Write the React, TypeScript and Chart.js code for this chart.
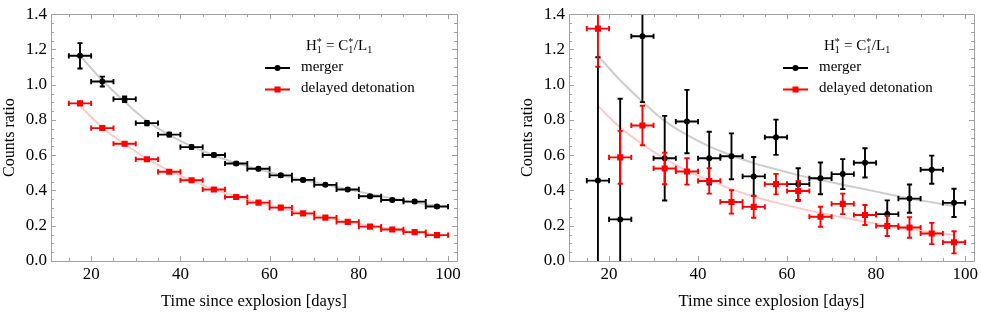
import React, { useEffect, useRef } from "react";
import { Chart, registerables } from "chart.js";
Chart.register(...registerables);

// ---- data ----
const days = [17.5, 22.5, 27.5, 32.5, 37.5, 42.5, 47.5, 52.5, 57.5, 62.5, 67.5, 72.5, 77.5, 82.5, 87.5, 92.5, 97.5];
const binHalfWidth = 2.5;

const leftMerger = [1.164, 1.018, 0.918, 0.782, 0.717, 0.646, 0.601, 0.553, 0.523, 0.486, 0.46, 0.432, 0.406, 0.367, 0.346, 0.337, 0.309];
const leftMergerErr = [0.072, 0.028, 0.016, 0.012, 0.011, 0.01, 0.009, 0.009, 0.008, 0.008, 0.008, 0.007, 0.007, 0.007, 0.007, 0.007, 0.007];
const leftDD = [0.894, 0.754, 0.665, 0.577, 0.506, 0.458, 0.406, 0.363, 0.331, 0.303, 0.27, 0.246, 0.222, 0.195, 0.179, 0.164, 0.147];
const leftDDErr = [0.01, 0.009, 0.008, 0.008, 0.007, 0.007, 0.007, 0.006, 0.006, 0.006, 0.006, 0.006, 0.006, 0.005, 0.005, 0.005, 0.005];

const rightMerger = [0.456, 0.236, 1.275, 0.583, 0.791, 0.583, 0.594, 0.48, 0.702, 0.436, 0.469, 0.493, 0.557, 0.266, 0.354, 0.518, 0.33];
const rightMergerErr = [0.7, 0.684, 0.374, 0.24, 0.18, 0.15, 0.13, 0.11, 0.1, 0.09, 0.09, 0.085, 0.083, 0.078, 0.08, 0.08, 0.08];
const rightDD = [1.318, 0.588, 0.769, 0.525, 0.508, 0.454, 0.335, 0.307, 0.436, 0.397, 0.251, 0.324, 0.261, 0.199, 0.19, 0.156, 0.106];
const rightDDErr = [0.216, 0.15, 0.112, 0.09, 0.075, 0.072, 0.066, 0.062, 0.058, 0.057, 0.057, 0.058, 0.057, 0.057, 0.058, 0.06, 0.063];

const modelMerger = [1.165, 1.025, 0.905, 0.795, 0.715, 0.65, 0.6, 0.555, 0.52, 0.487, 0.46, 0.433, 0.407, 0.38, 0.355, 0.333, 0.312];
const modelDD = [0.88, 0.757, 0.662, 0.58, 0.512, 0.457, 0.408, 0.366, 0.331, 0.3, 0.272, 0.247, 0.223, 0.2, 0.181, 0.163, 0.148];

const xMajorTicks = [20, 40, 60, 80, 100];
const xMinorTicks = [15, 25, 30, 35, 45, 50, 55, 65, 70, 75, 85, 90, 95];
const yMajorTicks = [0, 0.2, 0.4, 0.6, 0.8, 1.0, 1.2, 1.4];
const yMinorTicks = [0.05, 0.1, 0.15, 0.25, 0.3, 0.35, 0.45, 0.5, 0.55, 0.65, 0.7, 0.75, 0.85, 0.9, 0.95, 1.05, 1.1, 1.15, 1.25, 1.3, 1.35];

const seriesLabels = ["merger", "delayed detonation"];
const xTitle = "Time since explosion [days]";
const yTitle = "Counts ratio";

const SERIF = "'Liberation Serif', 'DejaVu Serif', serif";
const RED = "#ff0000";
const BLACK = "#000000";

const errorBarPlugin = {
  id: "errbars",
  beforeDatasetDraw(chart: any, args: any) {
    const ds = chart.data.datasets[args.index];
    if (!ds.errY) return;
    const xs = chart.scales.x;
    const ys = chart.scales.y;
    const ctx = chart.ctx;
    const a = chart.chartArea;
    ctx.save();
    ctx.beginPath();
    ctx.rect(a.left, a.top, a.right - a.left, a.bottom - a.top);
    ctx.clip();
    ctx.strokeStyle = ds.barColor;
    ctx.lineWidth = 1.9;
    const cap = 2.6;
    ds.data.forEach((p: any, i: number) => {
      const e = ds.errY[i];
      const px = xs.getPixelForValue(p.x);
      const py = ys.getPixelForValue(p.y);
      const x0 = xs.getPixelForValue(p.x - binHalfWidth);
      const x1 = xs.getPixelForValue(p.x + binHalfWidth);
      const y0 = ys.getPixelForValue(p.y - e);
      const y1 = ys.getPixelForValue(p.y + e);
      ctx.beginPath();
      ctx.moveTo(x0, py); ctx.lineTo(x1, py);
      ctx.moveTo(x0, py - cap); ctx.lineTo(x0, py + cap);
      ctx.moveTo(x1, py - cap); ctx.lineTo(x1, py + cap);
      ctx.moveTo(px, y0); ctx.lineTo(px, y1);
      ctx.moveTo(px - cap, y0); ctx.lineTo(px + cap, y0);
      ctx.moveTo(px - cap, y1); ctx.lineTo(px + cap, y1);
      ctx.stroke();
    });
    ctx.restore();
  },
};

const framePlugin = {
  id: "frame",
  afterDraw(chart: any) {
    const ctx = chart.ctx;
    const a = chart.chartArea;
    const xs = chart.scales.x;
    const ys = chart.scales.y;
    ctx.save();
    ctx.strokeStyle = "#a0a0a0";
    ctx.lineWidth = 1;
    ctx.beginPath();
    ctx.rect(Math.round(a.left) + 0.5, Math.round(a.top) + 0.5, Math.round(a.right - a.left), Math.round(a.bottom - a.top));
    ctx.stroke();
    ctx.beginPath();
    const xt = (v: number, len: number) => {
      const x = Math.round(xs.getPixelForValue(v)) + 0.5;
      ctx.moveTo(x, a.bottom); ctx.lineTo(x, a.bottom - len);
      ctx.moveTo(x, a.top); ctx.lineTo(x, a.top + len);
    };
    const yt = (v: number, len: number) => {
      const y = Math.round(ys.getPixelForValue(v)) + 0.5;
      ctx.moveTo(a.left, y); ctx.lineTo(a.left + len, y);
      ctx.moveTo(a.right, y); ctx.lineTo(a.right - len, y);
    };
    xMajorTicks.forEach((v) => xt(v, 5));
    xMinorTicks.forEach((v) => xt(v, 3));
    yMajorTicks.forEach((v) => yt(v, 5));
    yMinorTicks.forEach((v) => yt(v, 3));
    ctx.stroke();
    ctx.restore();
  },
};

const legendPlugin = {
  id: "customLegend",
  afterDraw(chart: any) {
    const ctx = chart.ctx;
    const L = chart.chartArea.left;
    ctx.save();
    ctx.fillStyle = BLACK;
    ctx.textBaseline = "alphabetic";
    // title H1* = C1*/L1
    const big = `15px ${SERIF}`;
    const small = `10px ${SERIF}`;
    let x = L + 255;
    const base = 49.5;
    const drawBig = (s: string) => { ctx.font = big; ctx.fillText(s, x, base); x += ctx.measureText(s).width; };
    const drawSupSub = (sup: string | null, sub: string) => {
      ctx.font = small;
      let w = ctx.measureText(sub).width;
      if (sup) { ctx.fillText(sup, x, base - 5); w = Math.max(w, ctx.measureText(sup).width); }
      ctx.fillText(sub, x, base + 3);
      x += w + 0.5;
    };
    drawBig("H");
    drawSupSub("*", "1");
    drawBig(" = C");
    drawSupSub("*", "1");
    drawBig("/L");
    drawSupSub(null, "1");

    // entries
    ctx.font = big;
    ctx.textBaseline = "middle";
    const entries = [
      { y: 68, color: BLACK, marker: "circle", label: seriesLabels[0] },
      { y: 89.5, color: RED, marker: "rect", label: seriesLabels[1] },
    ];
    entries.forEach((e) => {
      ctx.strokeStyle = e.color;
      ctx.lineWidth = 2;
      ctx.beginPath();
      ctx.moveTo(L + 214, e.y);
      ctx.lineTo(L + 239, e.y);
      ctx.stroke();
      ctx.fillStyle = e.color;
      const cx = L + 226.5;
      if (e.marker === "circle") {
        ctx.beginPath();
        ctx.arc(cx, e.y, 3, 0, Math.PI * 2);
        ctx.fill();
      } else {
        ctx.fillRect(cx - 3, e.y - 3, 6, 6);
      }
      ctx.fillStyle = BLACK;
      ctx.fillText(e.label, L + 250, e.y - 1);
    });
    ctx.restore();
  },
};

function makeConfig(merger: number[], mergerErr: number[], dd: number[], ddErr: number[], yAxisWidth: number, padRight: number): any {
  const pts = (vals: number[]) => days.map((d, i) => ({ x: d, y: vals[i] }));
  return {
    type: "scatter",
    data: {
      datasets: [
        {
          label: "model merger",
          data: pts(modelMerger),
          showLine: true,
          borderColor: "rgba(200,200,200,0.9)",
          borderWidth: 2,
          pointRadius: 0,
          tension: 0.4,
          order: 4,
        },
        {
          label: "model dd",
          data: pts(modelDD),
          showLine: true,
          borderColor: "rgba(255,195,195,0.9)",
          borderWidth: 2,
          pointRadius: 0,
          tension: 0.4,
          order: 3,
        },
        {
          label: seriesLabels[0],
          data: pts(merger),
          errY: mergerErr,
          barColor: BLACK,
          pointStyle: "circle",
          pointRadius: 3,
          backgroundColor: BLACK,
          borderColor: BLACK,
          borderWidth: 0,
          order: 2,
        },
        {
          label: seriesLabels[1],
          data: pts(dd),
          errY: ddErr,
          barColor: RED,
          pointStyle: "rect",
          pointRadius: 4.3,
          backgroundColor: RED,
          borderColor: RED,
          borderWidth: 0,
          order: 1,
        },
      ],
    },
    options: {
      animation: false,
      responsive: false,
      events: [],
      layout: { padding: { left: 0, top: 10, right: padRight, bottom: 0 } },
      plugins: { legend: { display: false }, tooltip: { enabled: false } },
      scales: {
        x: {
          type: "linear",
          min: 11,
          max: 102,
          afterBuildTicks: (s: any) => { s.ticks = xMajorTicks.map((v) => ({ value: v })); },
          afterFit: (s: any) => { s.height = 51; },
          grid: { display: false, drawTicks: false },
          border: { display: false },
          ticks: { color: BLACK, font: { family: SERIF, size: 17 }, padding: 3, maxRotation: 0, autoSkip: false },
          title: { display: true, text: xTitle, color: BLACK, font: { family: SERIF, size: 16.5 }, padding: 0 },
        },
        y: {
          type: "linear",
          min: 0,
          max: 1.4,
          afterBuildTicks: (s: any) => { s.ticks = yMajorTicks.map((v) => ({ value: v })); },
          afterFit: (s: any) => { s.width = yAxisWidth; },
          grid: { display: false, drawTicks: false },
          border: { display: false },
          ticks: { color: BLACK, font: { family: SERIF, size: 17 }, padding: 4, callback: (v: any) => Number(v).toFixed(1), autoSkip: false },
          title: { display: true, text: yTitle, color: BLACK, font: { family: SERIF, size: 16 }, padding: 0 },
        },
      },
    },
    plugins: [errorBarPlugin, framePlugin, legendPlugin],
  };
}

function Panel(props: { merger: number[]; mergerErr: number[]; dd: number[]; ddErr: number[]; width: number; padRight: number; left: number }) {
  const ref = useRef<HTMLCanvasElement | null>(null);
  useEffect(() => {
    if (!ref.current) return;
    const chart = new Chart(ref.current, makeConfig(props.merger, props.mergerErr, props.dd, props.ddErr, 51, props.padRight));
    return () => chart.destroy();
  }, []);
  return (
    <div style={{ position: "absolute", left: props.left, top: 0, width: props.width, height: 312 }}>
      <canvas ref={ref} width={props.width} height={312} style={{ display: "block", width: props.width, height: 312 }} />
    </div>
  );
}

export default function App() {
  return (
    <div style={{ position: "fixed", left: 0, top: 0, width: 981, height: 312, background: "#ffffff", overflow: "hidden" }}>
      <Panel merger={leftMerger} mergerErr={leftMergerErr} dd={leftDD} ddErr={leftDDErr} width={490} padRight={33} left={0} />
      <Panel merger={rightMerger} mergerErr={rightMergerErr} dd={rightDD} ddErr={rightDDErr} width={463} padRight={5} left={518} />
    </div>
  );
}
